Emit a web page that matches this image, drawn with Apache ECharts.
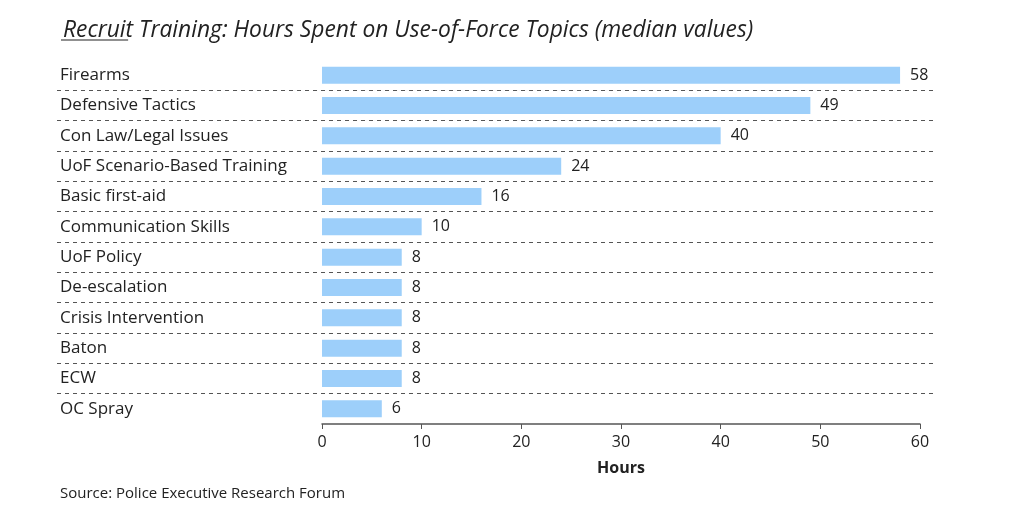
<!DOCTYPE html>
<html><head><meta charset="utf-8">
<script src="https://cdn.jsdelivr.net/npm/echarts@6/dist/echarts.min.js"></script>
<style>html,body{margin:0;padding:0;background:#fff}#c{width:1024px;height:523px}</style>
</head><body><div id="c"></div>
<script>
const categories = ["Firearms","Defensive Tactics","Con Law/Legal Issues","UoF Scenario-Based Training","Basic first-aid","Communication Skills","UoF Policy","De-escalation","Crisis Intervention","Baton","ECW","OC Spray"];
const hours = [58,49,40,24,16,10,8,8,8,8,8,6];
const xTicks = [0,10,20,30,40,50,60];

const FONT = "Open Sans";
const TITLE_SIZE = 22.8;
const tmp = new echarts.graphic.Text({style: {text: 'Recruit', fontFamily: FONT, fontStyle: 'italic', fontSize: TITLE_SIZE}});
const recruitW = tmp.getBoundingRect().width;

const chart = echarts.init(document.getElementById('c'));
chart.setOption({
  animation: false,
  backgroundColor: '#fff',
  title: {
    text: 'Recruit Training: Hours Spent on Use-of-Force Topics (median values)',
    left: 58, top: 14,
    textStyle: {fontFamily: FONT, fontStyle: 'italic', fontWeight: 'normal', fontSize: TITLE_SIZE, color: '#222'}
  },
  graphic: [
    {type: 'text', left: 60, top: 486, style: {text: 'Source: Police Executive Research Forum', fontFamily: FONT, fontSize: 15, fill: '#222'}},
    {type: 'line', shape: {x1: 61, y1: 40, x2: 58 + recruitW, y2: 40}, style: {stroke: '#222', lineWidth: 1.2}}
  ],
  grid: [
    {left: 322, right: 104, top: 60, bottom: 99},
    {left: 57, right: 91, top: 60, bottom: 99}
  ],
  xAxis: [
    {gridIndex: 0, type: 'value', min: 0, max: 60, interval: 10,
     name: 'Hours', nameLocation: 'middle', nameGap: 36,
     nameTextStyle: {fontFamily: FONT, fontSize: 16, fontWeight: 'bold', color: '#222'},
     axisLine: {show: true, lineStyle: {color: '#555', width: 1.5}},
     axisTick: {show: true, length: 5, lineStyle: {color: '#555'}},
     axisLabel: {fontFamily: FONT, fontSize: 16, color: '#222', margin: 10,
       formatter: v => xTicks.includes(v) ? String(v) : ''},
     splitLine: {show: false}},
    {gridIndex: 1, type: 'value', show: false, min: 0, max: 60}
  ],
  yAxis: [
    {gridIndex: 0, type: 'category', data: categories, inverse: true,
     axisLine: {show: false}, axisTick: {show: false},
     axisLabel: {fontFamily: FONT, fontSize: 17, color: '#222', align: 'left', margin: 262},
     splitLine: {show: false}},
    {gridIndex: 1, type: 'category', data: categories, inverse: true,
     axisLine: {show: false}, axisTick: {show: false}, axisLabel: {show: false},
     splitLine: {show: true, showMinLine: false, showMaxLine: false,
       lineStyle: {color: '#555', type: [4, 4], width: 1}}}
  ],
  series: [{
    type: 'bar', xAxisIndex: 0, yAxisIndex: 0, data: hours, barWidth: 17,
    itemStyle: {color: '#9dcffa'},
    label: {show: true, position: 'right', distance: 10, fontFamily: FONT, fontSize: 16, color: '#222'}
  }]
});
</script></body></html>
